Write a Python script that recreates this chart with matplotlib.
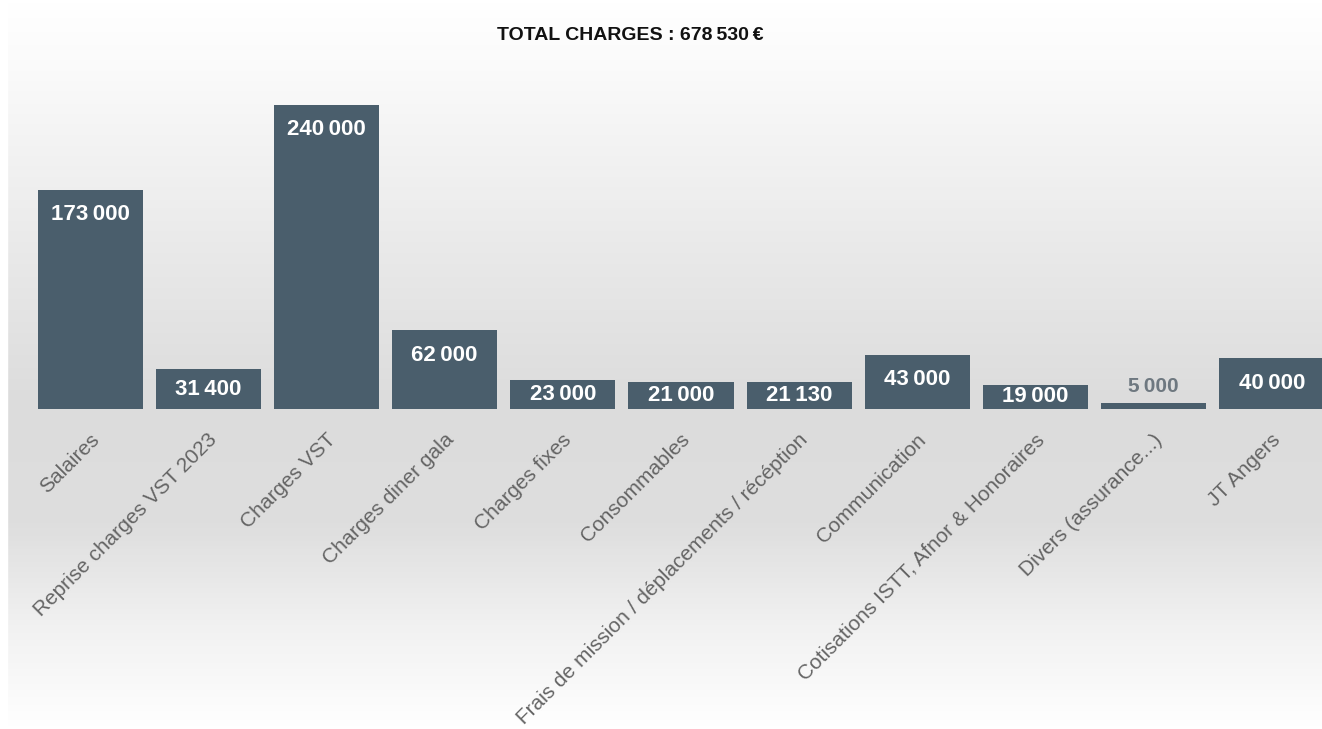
import numpy as np
import matplotlib
matplotlib.use("Agg")
import matplotlib.pyplot as plt
from matplotlib.colors import LinearSegmentedColormap

categories = ["Salaires", "Reprise charges VST 2023", "Charges VST", "Charges diner gala",
              "Charges fixes", "Consommables", "Frais de mission / déplacements / récéption",
              "Communication", "Cotisations ISTT, Afnor & Honoraires", "Divers (assurance...)",
              "JT Angers"]
values = [173000, 31400, 240000, 62000, 23000, 21000, 21130, 43000, 19000, 5000, 40000]
total_label = "TOTAL CHARGES : 678\u2009530\u2009€"

plt.rcParams['font.family'] = ['Liberation Sans', 'DejaVu Sans']

bar_color = "#4a5e6c"

def fmt(v):
    return f"{v:,}".replace(",", "\u2009")

fig = plt.figure(figsize=(13.22, 7.29), dpi=100)

# fond degrade
bg = fig.add_axes([0, 0, 1, 1], zorder=0)
stops = [(0.0, "#ffffff"), (0.08, "#fbfbfb"), (0.30, "#ececec"), (0.55, "#dcdcdc"),
         (0.72, "#dedede"), (0.86, "#f1f1f1"), (1.0, "#ffffff")]
cmap = LinearSegmentedColormap.from_list("bg", stops)
grad = np.linspace(0, 1, 400).reshape(-1, 1)
bg.imshow(grad, aspect="auto", cmap=cmap, extent=[0, 1, 1, 0])
bg.axvspan(0, 7 / 1322, color="white")
bg.set_xlim(0, 1)
bg.set_ylim(1, 0)
bg.axis("off")

ax = fig.add_axes([31 / 1322, 1 - 409 / 729, 1300 / 1322, 329.3 / 729], zorder=1)
ax.patch.set_alpha(0)
x = np.arange(len(values))
ax.bar(x, values, width=0.89, color=bar_color, zorder=2)
ax.set_xlim(-0.5, 10.5)
ax.set_ylim(0, 260000)

for xi, v in zip(x, values):
    if v < 10000:
        ax.text(xi, v + 13000, fmt(v), ha="center", va="center", fontsize=15,
                fontweight="bold", color="#6e7880", zorder=3)
    else:
        y = max(v - 19500, v / 2)
        ax.text(xi, y, fmt(v), ha="center", va="center", fontsize=16,
                fontweight="bold", color="white", zorder=3)

ax.set_xticks(x + 0.05)
ax.set_xticklabels(categories, rotation=45, ha="right", va="center",
                   rotation_mode="anchor", fontsize=15, color="#646464")
ax.tick_params(axis="x", length=0, pad=20)
ax.set_yticks([])
for s in ax.spines.values():
    s.set_visible(False)

fig.text(630 / 1322, 1 - 35 / 729, total_label, ha="center", va="center",
         fontsize=14, fontweight="bold", color="#111111")

fig.savefig("out.png", dpi=100)
